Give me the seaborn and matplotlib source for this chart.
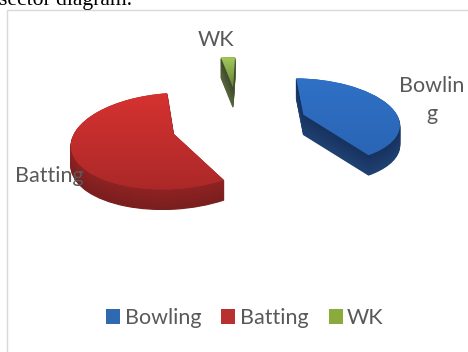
import numpy as np
import matplotlib
matplotlib.use("Agg")
import matplotlib.pyplot as plt
import seaborn as sns
from matplotlib.patches import Patch, Rectangle
from matplotlib.transforms import Transform, Affine2D
from matplotlib.colors import LinearSegmentedColormap

categories = ["Bowling", "Batting", "WK"]
shares = [41, 56, 3]
slice_labels = ["Bowlin\ng", "Batting", "WK"]
explode = [0.75, 0.66, 0.93]
heading = "sector diagram."

top_light = ["#2f72c8", "#d93331", "#a9cc5e"]
top_dark = ["#2a62b0", "#a92828", "#5f7d32"]
side_top = ["#17325f", "#8f2222", "#3f4a2c"]
side_bottom = ["#1f4172", "#7a1e1e", "#59683f"]
legend_colors = ["#2f69b0", "#b83030", "#8aab3c"]
TEXT = "#595959"

W, H = 468, 352
DEPTH = 20

sns.set_theme(style="white")
plt.rcParams["font.family"] = ["Lato", "DejaVu Sans"]


class TiltedPlane(Transform):
    """Projects the flat pie onto a receding plane, in pixel coordinates."""
    input_dims = output_dims = 2

    def __init__(self, cx=235, cy=123, rx=96, ry=44, recede=0.15):
        super().__init__()
        self.p = (cx, cy, rx, ry, recede)

    def transform_non_affine(self, xy):
        xy = np.asarray(xy, float)
        cx, cy, rx, ry, b = self.p
        w = 1 + b * xy[:, 1]
        return np.column_stack([cx + rx * xy[:, 0] / w, cy - ry * xy[:, 1] / w])

    def inverted(self):
        raise NotImplementedError


fig = plt.figure(figsize=(W / 100, H / 100), dpi=100, facecolor="white")
ax = fig.add_axes([0, 0, 1, 1])
plane = TiltedPlane()
nudge = [1, 0, 4]

# Side walls: stacked copies of the pie, deepest first
for k in range(DEPTH, 0, -1):
    t = k / DEPTH
    cols = [sns.blend_palette([a, b], 21)[int(t * 20)] for a, b in zip(side_top, side_bottom)]
    wedges, _ = ax.pie(shares, colors=cols, explode=explode, startangle=89, counterclock=False)
    for w, dx in zip(wedges, nudge):
        w.set_edgecolor(w.get_facecolor())
        w.set_linewidth(0.8)
        w.set_transform(plane + Affine2D().translate(dx, k) + ax.transData)

# Top faces, shaded with a vertical gradient clipped to each wedge
tops, _ = ax.pie(shares, colors=top_dark, explode=explode, startangle=89, counterclock=False,
                 wedgeprops={"linewidth": 0})
extents = [(290, 405, 175, 70), (65, 225, 195, 85), (215, 240, 90, 55)]
for w, a, b, ext, dx in zip(tops, top_light, top_dark, extents, nudge):
    w.set_transform(plane + Affine2D().translate(dx, 0) + ax.transData)
    cmap = LinearSegmentedColormap.from_list("face", [a, b])
    im = ax.imshow(np.linspace(0, 1, 64)[:, None], cmap=cmap, aspect="auto",
                   extent=(ext[0], ext[1], ext[3], ext[2]), origin="lower", zorder=3)
    im.set_clip_path(w)

ax.set_aspect("auto")
ax.set_xlim(0, W)
ax.set_ylim(H, 0)
ax.set_frame_on(False)
ax.set_xticks([])
ax.set_yticks([])

# Chart frame
ax.add_patch(Rectangle((6.5, 9.5), W, H, fill=False, ec="#d9d9d9", lw=1, zorder=1))

# Slice labels
ax.text(432, 100, slice_labels[0], color=TEXT, fontsize=15.5, ha="center", va="center",
        linespacing=1.45, zorder=5)
ax.text(49, 176, slice_labels[1], color=TEXT, fontsize=15.5, ha="center", va="center", zorder=5)
ax.text(216, 40, slice_labels[2], color=TEXT, fontsize=15.5, ha="center", va="center", zorder=5)

# Text cut off by the top edge of the figure
ax.text(-1, 4.5, heading, color="black", fontsize=15.6, family="Liberation Serif",
        ha="left", va="baseline", zorder=5)

handles = [Patch(facecolor=c, edgecolor="none", label=n) for c, n in zip(legend_colors, categories)]
ax.legend(handles=handles, loc="center", bbox_to_anchor=(245 / W, 1 - 318 / H), ncol=3,
          frameon=False, fontsize=15.5, labelcolor=TEXT, handlelength=0.65, handleheight=0.65,
          handletextpad=0.2, columnspacing=0.95, borderpad=0)

fig.savefig("out.png", dpi=100)
